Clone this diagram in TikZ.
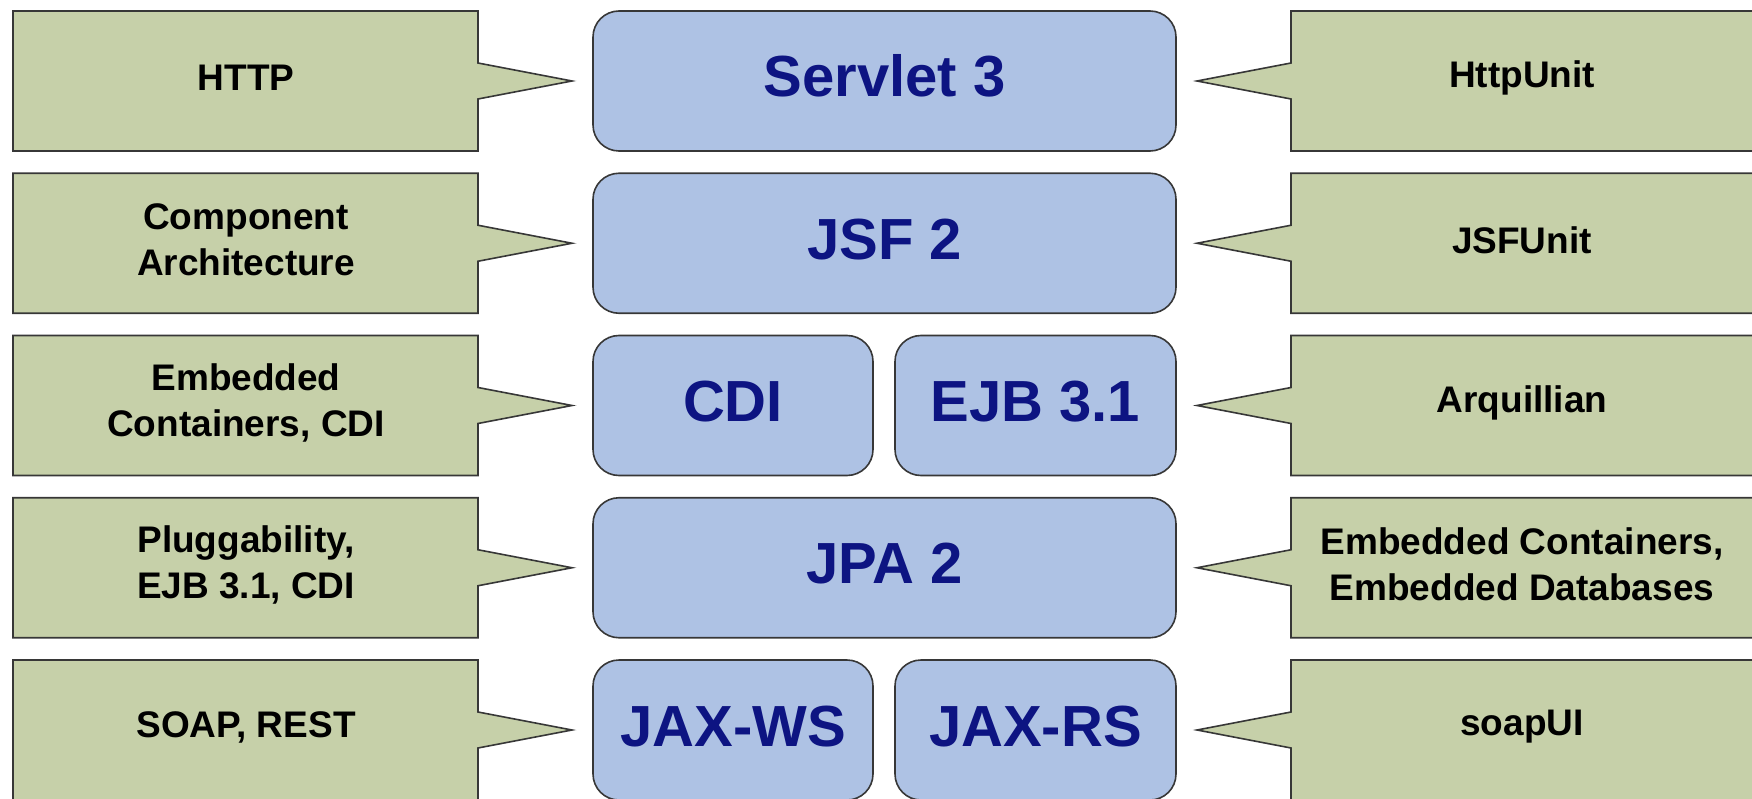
\documentclass[tikz,border=0pt]{standalone}
\usepackage{fontspec}
\setmainfont{Liberation Sans}
\definecolor{greenfill}{RGB}{198,208,169}
\definecolor{bluefill}{RGB}{174,194,228}
\definecolor{navytext}{RGB}{13,20,130}
\definecolor{bordercol}{RGB}{55,55,55}
\begin{document}
\begin{tikzpicture}[x=1pt,y=-1pt,
  callout/.style={draw=bordercol, line width=1.6pt, fill=greenfill, line join=miter},
  blk/.style={draw=bordercol, line width=1.6pt, fill=bluefill, rounded corners=26pt,
    text=navytext, font=\bfseries\fontsize{58}{62}\selectfont,
    inner sep=0pt, minimum height=140pt, text height=42pt, text depth=10pt},
  lab/.style={align=center, font=\bfseries\fontsize{37}{46}\selectfont,
    text=black, inner sep=0pt, yshift=3pt}]
\useasboundingbox (0,0) rectangle (1752,799);
\clip (0,0) rectangle (1752,799);
% callout shapes
\foreach \cy/\n in {81/a,243.25/b,405.5/c,567.75/d,730/e}{
  \coordinate (ltip\n) at (572,\cy);
  \coordinate (rtip\n) at (1197,\cy);
  \draw[callout] (13,\cy-70) -- (478,\cy-70) -- (478,\cy-18) -- (ltip\n)
    -- (478,\cy+18) -- (478,\cy+70) -- (13,\cy+70) -- cycle;
  \draw[callout] (1775,\cy-70) -- (1291,\cy-70) -- (1291,\cy-18) -- (rtip\n)
    -- (1291,\cy+18) -- (1291,\cy+70) -- (1775,\cy+70);
}
% left labels
\node[lab] (lhttp) at (246,81) {HTTP};
\node[lab] (lcomp) at (246,243.25) {Component\\Architecture};
\node[lab] (lemb) at (246,405.5) {Embedded\\Containers, CDI};
\node[lab] (lplug) at (246,567.75) {Pluggability,\\EJB 3.1, CDI};
\node[lab] (lsoap) at (246,730) {SOAP, REST};
% right labels
\node[lab] (rhttp) at (1522,81) {HttpUnit};
\node[lab] (rjsf) at (1522,243.25) {JSFUnit};
\node[lab] (rarq) at (1522,405.5) {Arquillian};
\node[lab] (rembdb) at (1522,567.75) {Embedded Containers,\\Embedded Databases};
\node[lab] (rsoapui) at (1522,730) {soapUI};
% blue blocks
\node[blk, minimum width=583pt] (servlet) at (884.5,81) {Servlet 3};
\node[blk, minimum width=583pt] (jsf) at (884.5,243.25) {JSF 2};
\node[blk, minimum width=280pt] (cdi) at (733,405.5) {CDI};
\node[blk, minimum width=281pt] (ejb) at (1035.5,405.5) {EJB 3.1};
\node[blk, minimum width=583pt] (jpa) at (884.5,567.75) {JPA 2};
\node[blk, minimum width=280pt] (jaxws) at (733,730) {JAX-WS};
\node[blk, minimum width=281pt] (jaxrs) at (1035.5,730) {JAX-RS};
\end{tikzpicture}
\end{document}
